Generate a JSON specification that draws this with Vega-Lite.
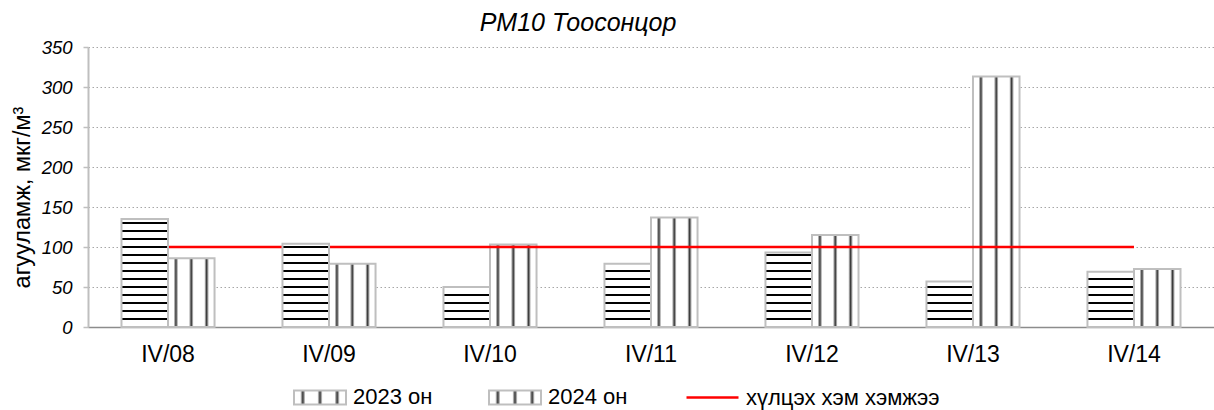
{
  "$schema": "https://vega.github.io/schema/vega-lite/v6.json",
  "width": 1126,
  "height": 280,
  "autosize": {"type": "none"},
  "padding": {"left": 88, "top": 47, "right": 0, "bottom": 83},
  "background": "white",
  "config": {
    "font": "Liberation Sans",
    "view": {"stroke": null},
    "axisX": {"labelFontSize": 23, "labelColor": "#000", "labelPadding": 16, "ticks": false, "domainColor": "#8c8c8c", "domainWidth": 1.5, "labelAngle": 0, "grid": false, "zindex": 1},
    "axisY": {"labelFontSize": 18.5, "labelFontStyle": "italic", "labelColor": "#000", "labelPadding": 11, "tickSize": 5, "tickColor": "#bfbfbf", "tickWidth": 1.5, "domainColor": "#bfbfbf", "domainWidth": 2, "gridColor": "#a6a6a6", "gridDash": [1.5, 2.5], "gridWidth": 1, "titleFontSize": 23.5, "titleFontWeight": "normal", "titleColor": "#000", "titleX": -59, "titleY": 150, "titleBaseline": "alphabetic"},
    "legend": {"orient": "none", "legendY": 323, "direction": "horizontal", "title": null, "labelFontSize": 22, "labelColor": "#000", "labelOffset": 6, "symbolSize": 2704, "symbolStrokeWidth": 2, "padding": 0, "labelLimit": 400}
  },
  "title": {"text": "PM10 Тоосонцор", "fontSize": 25, "fontStyle": "italic", "fontWeight": "normal", "color": "#000", "anchor": "middle", "frame": "group", "dx": -73, "dy": 36, "offset": 18, "baseline": "alphabetic"},
  "datasets": {
    "bars": [
      {"date": "IV/08", "year": "2023 он", "value": 135},
      {"date": "IV/08", "year": "2024 он", "value": 86},
      {"date": "IV/09", "year": "2023 он", "value": 104},
      {"date": "IV/09", "year": "2024 он", "value": 79},
      {"date": "IV/10", "year": "2023 он", "value": 50},
      {"date": "IV/10", "year": "2024 он", "value": 103},
      {"date": "IV/11", "year": "2023 он", "value": 79},
      {"date": "IV/11", "year": "2024 он", "value": 137},
      {"date": "IV/12", "year": "2023 он", "value": 93},
      {"date": "IV/12", "year": "2024 он", "value": 115},
      {"date": "IV/13", "year": "2023 он", "value": 57},
      {"date": "IV/13", "year": "2024 он", "value": 313},
      {"date": "IV/14", "year": "2023 он", "value": 69},
      {"date": "IV/14", "year": "2024 он", "value": 72.5}
    ],
    "limit": [
      {"date": "IV/08", "series": "хүлцэх хэм хэмжээ", "limit": 100},
      {"date": "IV/09", "series": "хүлцэх хэм хэмжээ", "limit": 100},
      {"date": "IV/10", "series": "хүлцэх хэм хэмжээ", "limit": 100},
      {"date": "IV/11", "series": "хүлцэх хэм хэмжээ", "limit": 100},
      {"date": "IV/12", "series": "хүлцэх хэм хэмжээ", "limit": 100},
      {"date": "IV/13", "series": "хүлцэх хэм хэмжээ", "limit": 100},
      {"date": "IV/14", "series": "хүлцэх хэм хэмжээ", "limit": 100}
    ]
  },
  "encoding": {
    "x": {"field": "date", "type": "nominal", "title": null, "scale": {"paddingInner": 0.422, "paddingOuter": 0.208}}
  },
  "layer": [
    {
      "data": {"name": "bars"},
      "transform": [{"filter": "datum.year === '2024 он'"}],
      "mark": {"type": "bar", "strokeWidth": 2},
      "encoding": {
        "xOffset": {"field": "year", "type": "nominal", "scale": {"domain": ["2023 он", "2024 он"], "paddingInner": 0, "paddingOuter": 0}},
        "y": {"field": "value", "type": "quantitative", "title": "агууламж, мкг/м³", "scale": {"domain": [0, 350], "nice": false}, "axis": {"values": [0, 50, 100, 150, 200, 250, 300, 350]}},
        "fill": {"value": {"gradient": "linear", "x1": 0, "y1": 0, "x2": 1, "y2": 0, "stops": [
          {"offset": 0, "color": "#fff"},
          {"offset": 0.12, "color": "#fff"}, {"offset": 0.17, "color": "#333"}, {"offset": 0.22, "color": "#fff"},
          {"offset": 0.45, "color": "#fff"}, {"offset": 0.5, "color": "#333"}, {"offset": 0.55, "color": "#fff"},
          {"offset": 0.78, "color": "#fff"}, {"offset": 0.83, "color": "#333"}, {"offset": 0.88, "color": "#fff"},
          {"offset": 1, "color": "#fff"}]}},
        "stroke": {"field": "year", "type": "nominal", "scale": {"domain": ["2023 он", "2024 он"], "range": ["#bfbfbf", "#bfbfbf"]},
          "legend": {"legendX": 205, "columns": 2, "columnPadding": 52, "symbolType": "M-1,-0.27H1V0.27H-1Z", "symbolStrokeColor": "#bfbfbf",
            "encode": {"symbols": {
              "fill": {"condition": {"test": "datum.value === '2023 он'", "value": {"gradient": "linear", "x1": 0, "y1": 0, "x2": 0, "y2": 1, "stops": [{"offset": 0, "color": "#fff"}, {"offset": 0.38, "color": "#fff"}, {"offset": 0.38, "color": "#000"}, {"offset": 0.6, "color": "#000"}, {"offset": 0.6, "color": "#fff"}, {"offset": 1, "color": "#fff"}]}},
                "value": {"gradient": "linear", "x1": 0, "y1": 0, "x2": 1, "y2": 0, "stops": [{"offset": 0, "color": "#fff"}, {"offset": 0.1, "color": "#444"}, {"offset": 0.2, "color": "#fff"}, {"offset": 0.3, "color": "#444"}, {"offset": 0.4, "color": "#fff"}, {"offset": 0.5, "color": "#444"}, {"offset": 0.6, "color": "#fff"}, {"offset": 0.7, "color": "#444"}, {"offset": 0.8, "color": "#fff"}, {"offset": 0.9, "color": "#444"}, {"offset": 1, "color": "#fff"}]}},
              "opacity": {"value": 1}
            }}}
        }
      }
    },
    {
      "data": {"name": "limit"},
      "mark": {"type": "line", "strokeWidth": 2.5},
      "encoding": {
        "y": {"field": "limit", "type": "quantitative", "title": "агууламж, мкг/м³", "scale": {"domain": [0, 350], "nice": false}, "axis": {"values": [0, 50, 100, 150, 200, 250, 300, 350]}},
        "color": {"field": "series", "type": "nominal", "scale": {"domain": ["хүлцэх хэм хэмжээ"], "range": ["#ff0000"]},
          "legend": {"legendX": 597, "symbolType": "M-1,0H1", "symbolStrokeWidth": 2.5}}
      }
    },
    {
      "data": {"name": "bars"},
      "transform": [{"filter": "datum.year === '2023 он'"}],
      "mark": {"type": "bar", "strokeWidth": 2},
      "encoding": {
        "xOffset": {"field": "year", "type": "nominal", "scale": {"domain": ["2023 он", "2024 он"], "paddingInner": 0, "paddingOuter": 0}},
        "y": {"field": "value", "type": "quantitative", "title": "агууламж, мкг/м³", "scale": {"domain": [0, 350], "nice": false}, "axis": {"values": [0, 50, 100, 150, 200, 250, 300, 350]}},
        "stroke": {"field": "year", "type": "nominal", "scale": {"domain": ["2023 он", "2024 он"], "range": ["#bfbfbf", "#bfbfbf"]},
          "legend": {"legendX": 205, "columns": 2, "columnPadding": 52, "symbolType": "M-1,-0.27H1V0.27H-1Z", "symbolStrokeColor": "#bfbfbf",
            "encode": {"symbols": {
              "fill": {"condition": {"test": "datum.value === '2023 он'", "value": {"gradient": "linear", "x1": 0, "y1": 0, "x2": 0, "y2": 1, "stops": [{"offset": 0, "color": "#fff"}, {"offset": 0.38, "color": "#fff"}, {"offset": 0.38, "color": "#000"}, {"offset": 0.6, "color": "#000"}, {"offset": 0.6, "color": "#fff"}, {"offset": 1, "color": "#fff"}]}},
                "value": {"gradient": "linear", "x1": 0, "y1": 0, "x2": 1, "y2": 0, "stops": [{"offset": 0, "color": "#fff"}, {"offset": 0.1, "color": "#444"}, {"offset": 0.2, "color": "#fff"}, {"offset": 0.3, "color": "#444"}, {"offset": 0.4, "color": "#fff"}, {"offset": 0.5, "color": "#444"}, {"offset": 0.6, "color": "#fff"}, {"offset": 0.7, "color": "#444"}, {"offset": 0.8, "color": "#fff"}, {"offset": 0.9, "color": "#444"}, {"offset": 1, "color": "#fff"}]}},
              "opacity": {"value": 1}
            }}}
        },
        "fill": {
          "condition": [
            {"test": "datum.date === 'IV/08'", "value": {"gradient": "linear", "x1": 0, "y1": 0, "x2": 0, "y2": 1, "stops": [
              {"offset": 0, "color": "#fff"},
              {"offset": 0.0278, "color": "#fff"}, {"offset": 0.0278, "color": "#000"}, {"offset": 0.0463, "color": "#000"}, {"offset": 0.0463, "color": "#fff"},
              {"offset": 0.1019, "color": "#fff"}, {"offset": 0.1019, "color": "#000"}, {"offset": 0.1204, "color": "#000"}, {"offset": 0.1204, "color": "#fff"},
              {"offset": 0.1759, "color": "#fff"}, {"offset": 0.1759, "color": "#000"}, {"offset": 0.1944, "color": "#000"}, {"offset": 0.1944, "color": "#fff"},
              {"offset": 0.25, "color": "#fff"}, {"offset": 0.25, "color": "#000"}, {"offset": 0.2685, "color": "#000"}, {"offset": 0.2685, "color": "#fff"},
              {"offset": 0.3241, "color": "#fff"}, {"offset": 0.3241, "color": "#000"}, {"offset": 0.3426, "color": "#000"}, {"offset": 0.3426, "color": "#fff"},
              {"offset": 0.3981, "color": "#fff"}, {"offset": 0.3981, "color": "#000"}, {"offset": 0.4167, "color": "#000"}, {"offset": 0.4167, "color": "#fff"},
              {"offset": 0.4722, "color": "#fff"}, {"offset": 0.4722, "color": "#000"}, {"offset": 0.4907, "color": "#000"}, {"offset": 0.4907, "color": "#fff"},
              {"offset": 0.5463, "color": "#fff"}, {"offset": 0.5463, "color": "#000"}, {"offset": 0.5648, "color": "#000"}, {"offset": 0.5648, "color": "#fff"},
              {"offset": 0.6204, "color": "#fff"}, {"offset": 0.6204, "color": "#000"}, {"offset": 0.6389, "color": "#000"}, {"offset": 0.6389, "color": "#fff"},
              {"offset": 0.6944, "color": "#fff"}, {"offset": 0.6944, "color": "#000"}, {"offset": 0.713, "color": "#000"}, {"offset": 0.713, "color": "#fff"},
              {"offset": 0.7685, "color": "#fff"}, {"offset": 0.7685, "color": "#000"}, {"offset": 0.787, "color": "#000"}, {"offset": 0.787, "color": "#fff"},
              {"offset": 0.8426, "color": "#fff"}, {"offset": 0.8426, "color": "#000"}, {"offset": 0.8611, "color": "#000"}, {"offset": 0.8611, "color": "#fff"},
              {"offset": 0.9167, "color": "#fff"}, {"offset": 0.9167, "color": "#000"}, {"offset": 0.9352, "color": "#000"}, {"offset": 0.9352, "color": "#fff"},
              {"offset": 1, "color": "#fff"}]}},
            {"test": "datum.date === 'IV/09'", "value": {"gradient": "linear", "x1": 0, "y1": 0, "x2": 0, "y2": 1, "stops": [
              {"offset": 0, "color": "#fff"},
              {"offset": 0.0264, "color": "#fff"}, {"offset": 0.0264, "color": "#000"}, {"offset": 0.0505, "color": "#000"}, {"offset": 0.0505, "color": "#fff"},
              {"offset": 0.1226, "color": "#fff"}, {"offset": 0.1226, "color": "#000"}, {"offset": 0.1466, "color": "#000"}, {"offset": 0.1466, "color": "#fff"},
              {"offset": 0.2188, "color": "#fff"}, {"offset": 0.2188, "color": "#000"}, {"offset": 0.2428, "color": "#000"}, {"offset": 0.2428, "color": "#fff"},
              {"offset": 0.3149, "color": "#fff"}, {"offset": 0.3149, "color": "#000"}, {"offset": 0.3389, "color": "#000"}, {"offset": 0.3389, "color": "#fff"},
              {"offset": 0.4111, "color": "#fff"}, {"offset": 0.4111, "color": "#000"}, {"offset": 0.4351, "color": "#000"}, {"offset": 0.4351, "color": "#fff"},
              {"offset": 0.5072, "color": "#fff"}, {"offset": 0.5072, "color": "#000"}, {"offset": 0.5312, "color": "#000"}, {"offset": 0.5312, "color": "#fff"},
              {"offset": 0.6034, "color": "#fff"}, {"offset": 0.6034, "color": "#000"}, {"offset": 0.6274, "color": "#000"}, {"offset": 0.6274, "color": "#fff"},
              {"offset": 0.6995, "color": "#fff"}, {"offset": 0.6995, "color": "#000"}, {"offset": 0.7236, "color": "#000"}, {"offset": 0.7236, "color": "#fff"},
              {"offset": 0.7957, "color": "#fff"}, {"offset": 0.7957, "color": "#000"}, {"offset": 0.8197, "color": "#000"}, {"offset": 0.8197, "color": "#fff"},
              {"offset": 0.8918, "color": "#fff"}, {"offset": 0.8918, "color": "#000"}, {"offset": 0.9159, "color": "#000"}, {"offset": 0.9159, "color": "#fff"},
              {"offset": 1, "color": "#fff"}]}},
            {"test": "datum.date === 'IV/10'", "value": {"gradient": "linear", "x1": 0, "y1": 0, "x2": 0, "y2": 1, "stops": [
              {"offset": 0, "color": "#fff"},
              {"offset": 0.175, "color": "#fff"}, {"offset": 0.175, "color": "#000"}, {"offset": 0.225, "color": "#000"}, {"offset": 0.225, "color": "#fff"},
              {"offset": 0.375, "color": "#fff"}, {"offset": 0.375, "color": "#000"}, {"offset": 0.425, "color": "#000"}, {"offset": 0.425, "color": "#fff"},
              {"offset": 0.575, "color": "#fff"}, {"offset": 0.575, "color": "#000"}, {"offset": 0.625, "color": "#000"}, {"offset": 0.625, "color": "#fff"},
              {"offset": 0.775, "color": "#fff"}, {"offset": 0.775, "color": "#000"}, {"offset": 0.825, "color": "#000"}, {"offset": 0.825, "color": "#fff"},
              {"offset": 1, "color": "#fff"}]}},
            {"test": "datum.date === 'IV/11'", "value": {"gradient": "linear", "x1": 0, "y1": 0, "x2": 0, "y2": 1, "stops": [
              {"offset": 0, "color": "#fff"},
              {"offset": 0.0981, "color": "#fff"}, {"offset": 0.0981, "color": "#000"}, {"offset": 0.1297, "color": "#000"}, {"offset": 0.1297, "color": "#fff"},
              {"offset": 0.2247, "color": "#fff"}, {"offset": 0.2247, "color": "#000"}, {"offset": 0.2563, "color": "#000"}, {"offset": 0.2563, "color": "#fff"},
              {"offset": 0.3513, "color": "#fff"}, {"offset": 0.3513, "color": "#000"}, {"offset": 0.3829, "color": "#000"}, {"offset": 0.3829, "color": "#fff"},
              {"offset": 0.4778, "color": "#fff"}, {"offset": 0.4778, "color": "#000"}, {"offset": 0.5095, "color": "#000"}, {"offset": 0.5095, "color": "#fff"},
              {"offset": 0.6044, "color": "#fff"}, {"offset": 0.6044, "color": "#000"}, {"offset": 0.6361, "color": "#000"}, {"offset": 0.6361, "color": "#fff"},
              {"offset": 0.731, "color": "#fff"}, {"offset": 0.731, "color": "#000"}, {"offset": 0.7627, "color": "#000"}, {"offset": 0.7627, "color": "#fff"},
              {"offset": 0.8576, "color": "#fff"}, {"offset": 0.8576, "color": "#000"}, {"offset": 0.8892, "color": "#000"}, {"offset": 0.8892, "color": "#fff"},
              {"offset": 1, "color": "#fff"}]}},
            {"test": "datum.date === 'IV/12'", "value": {"gradient": "linear", "x1": 0, "y1": 0, "x2": 0, "y2": 1, "stops": [
              {"offset": 0, "color": "#fff"},
              {"offset": 0.0188, "color": "#fff"}, {"offset": 0.0188, "color": "#000"}, {"offset": 0.0457, "color": "#000"}, {"offset": 0.0457, "color": "#fff"},
              {"offset": 0.1263, "color": "#fff"}, {"offset": 0.1263, "color": "#000"}, {"offset": 0.1532, "color": "#000"}, {"offset": 0.1532, "color": "#fff"},
              {"offset": 0.2339, "color": "#fff"}, {"offset": 0.2339, "color": "#000"}, {"offset": 0.2608, "color": "#000"}, {"offset": 0.2608, "color": "#fff"},
              {"offset": 0.3414, "color": "#fff"}, {"offset": 0.3414, "color": "#000"}, {"offset": 0.3683, "color": "#000"}, {"offset": 0.3683, "color": "#fff"},
              {"offset": 0.4489, "color": "#fff"}, {"offset": 0.4489, "color": "#000"}, {"offset": 0.4758, "color": "#000"}, {"offset": 0.4758, "color": "#fff"},
              {"offset": 0.5565, "color": "#fff"}, {"offset": 0.5565, "color": "#000"}, {"offset": 0.5833, "color": "#000"}, {"offset": 0.5833, "color": "#fff"},
              {"offset": 0.664, "color": "#fff"}, {"offset": 0.664, "color": "#000"}, {"offset": 0.6909, "color": "#000"}, {"offset": 0.6909, "color": "#fff"},
              {"offset": 0.7715, "color": "#fff"}, {"offset": 0.7715, "color": "#000"}, {"offset": 0.7984, "color": "#000"}, {"offset": 0.7984, "color": "#fff"},
              {"offset": 0.879, "color": "#fff"}, {"offset": 0.879, "color": "#000"}, {"offset": 0.9059, "color": "#000"}, {"offset": 0.9059, "color": "#fff"},
              {"offset": 1, "color": "#fff"}]}},
            {"test": "datum.date === 'IV/13'", "value": {"gradient": "linear", "x1": 0, "y1": 0, "x2": 0, "y2": 1, "stops": [
              {"offset": 0, "color": "#fff"},
              {"offset": 0.1009, "color": "#fff"}, {"offset": 0.1009, "color": "#000"}, {"offset": 0.1447, "color": "#000"}, {"offset": 0.1447, "color": "#fff"},
              {"offset": 0.2763, "color": "#fff"}, {"offset": 0.2763, "color": "#000"}, {"offset": 0.3202, "color": "#000"}, {"offset": 0.3202, "color": "#fff"},
              {"offset": 0.4518, "color": "#fff"}, {"offset": 0.4518, "color": "#000"}, {"offset": 0.4956, "color": "#000"}, {"offset": 0.4956, "color": "#fff"},
              {"offset": 0.6272, "color": "#fff"}, {"offset": 0.6272, "color": "#000"}, {"offset": 0.6711, "color": "#000"}, {"offset": 0.6711, "color": "#fff"},
              {"offset": 0.8026, "color": "#fff"}, {"offset": 0.8026, "color": "#000"}, {"offset": 0.8465, "color": "#000"}, {"offset": 0.8465, "color": "#fff"},
              {"offset": 1, "color": "#fff"}]}},
            {"test": "datum.date === 'IV/14'", "value": {"gradient": "linear", "x1": 0, "y1": 0, "x2": 0, "y2": 1, "stops": [
              {"offset": 0, "color": "#fff"},
              {"offset": 0.1123, "color": "#fff"}, {"offset": 0.1123, "color": "#000"}, {"offset": 0.1486, "color": "#000"}, {"offset": 0.1486, "color": "#fff"},
              {"offset": 0.2572, "color": "#fff"}, {"offset": 0.2572, "color": "#000"}, {"offset": 0.2935, "color": "#000"}, {"offset": 0.2935, "color": "#fff"},
              {"offset": 0.4022, "color": "#fff"}, {"offset": 0.4022, "color": "#000"}, {"offset": 0.4384, "color": "#000"}, {"offset": 0.4384, "color": "#fff"},
              {"offset": 0.5471, "color": "#fff"}, {"offset": 0.5471, "color": "#000"}, {"offset": 0.5833, "color": "#000"}, {"offset": 0.5833, "color": "#fff"},
              {"offset": 0.692, "color": "#fff"}, {"offset": 0.692, "color": "#000"}, {"offset": 0.7283, "color": "#000"}, {"offset": 0.7283, "color": "#fff"},
              {"offset": 0.837, "color": "#fff"}, {"offset": 0.837, "color": "#000"}, {"offset": 0.8732, "color": "#000"}, {"offset": 0.8732, "color": "#fff"},
              {"offset": 1, "color": "#fff"}]}}
          ],
          "value": "#fff"
        }
      }
    }
  ]
}
